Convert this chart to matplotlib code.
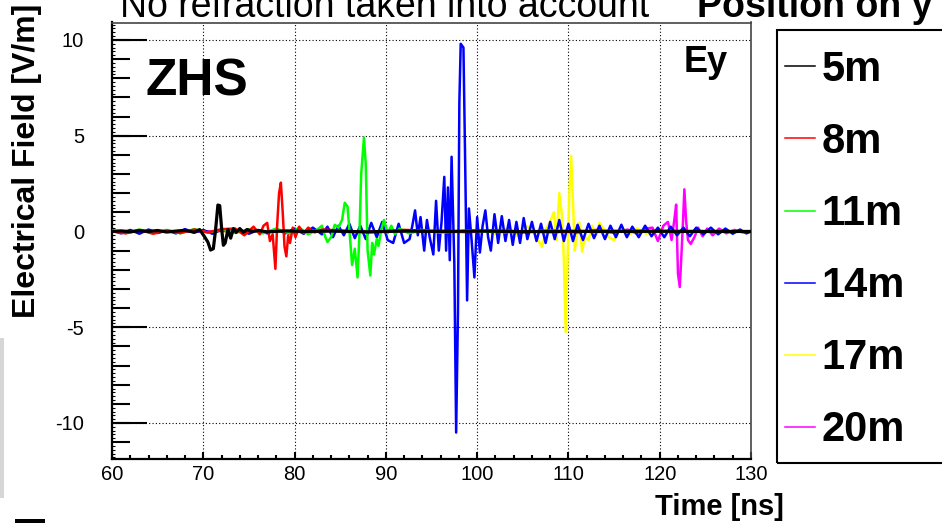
import matplotlib
matplotlib.use('Agg')
import matplotlib.pyplot as plt
from matplotlib.ticker import MultipleLocator, NullLocator
from matplotlib.patches import Rectangle

plt.rcParams['font.family'] = ['Liberation Sans', 'DejaVu Sans']
plt.rcParams['axes.unicode_minus'] = False

# E-field traces (Ey) for antennas at different positions
t_5m = [60, 61, 62, 63, 64, 65, 66, 67, 68, 69,
        69.6, 70.1, 70.5, 70.8, 71.1, 71.35, 71.6, 71.8, 72.0, 72.2,
        72.4, 72.7, 73.0, 73.3, 73.6, 74.0, 74.4, 74.8, 75.3, 76.0,
        77, 79, 81, 84, 88, 92, 96, 100, 105, 110,
        115, 120, 125, 130]
v_5m = [0.0, 0.03, -0.02, 0.04, 0.0, 0.05, -0.03, 0.02, 0.06, -0.04,
        0.1, -0.25, -0.55, -0.97, -0.9, 0.1, 1.38, 1.35, 0.2, -0.72,
        -0.6, 0.1, -0.35, 0.15, -0.05, 0.15, -0.05, 0.1, 0.0, 0.05,
        -0.02, 0.03, 0.0, 0.02, -0.02, 0.02, 0.0, 0.02, -0.01, 0.01,
        0.0, 0.01, 0.0, 0.0]

t_8m = [60, 61.5, 63, 64.5, 66, 67.5, 69, 70.5, 72, 73.5,
        74.5, 75.5, 76.2, 76.6, 77.0, 77.3, 77.6, 77.9, 78.1, 78.3,
        78.5, 78.7, 78.9, 79.1, 79.3, 79.5, 79.8, 80.1, 80.5, 81.0,
        81.5, 82.2, 83, 85, 88, 92, 97, 102, 108, 114,
        120, 126, 130]
v_8m = [0.0, -0.1, 0.08, -0.12, 0.05, -0.08, 0.1, -0.05, 0.12, 0.15,
        -0.2, 0.25, -0.15, 0.3, 0.45, -0.5, -0.15, -1.95, 0.4, 2.0,
        2.55, 1.0, -0.8, -1.3, -0.2, -0.6, 0.2, -0.3, 0.25, -0.1,
        0.2, -0.05, 0.1, 0.05, -0.05, 0.08, 0.0, 0.05, -0.04, 0.03,
        0.02, -0.02, 0.0]

t_11m = [60, 61.5, 63, 64.5, 66, 67.5, 69, 70.5, 72, 73.5,
         75, 76.5, 78, 79.5, 80.5, 81.5, 82.5, 83.0, 83.3, 83.6,
         84.0, 84.4, 84.8, 85.2, 85.5, 85.8, 86.1, 86.3, 86.6, 86.9,
         87.1, 87.3, 87.6, 87.8, 88.0, 88.3, 88.5, 88.7, 89.0, 89.2,
         89.5, 89.8, 90.2, 90.6, 91.0, 91.5, 92.5, 94, 96, 99,
         103, 108, 113, 118, 124, 130]
v_11m = [0.05, -0.08, 0.1, -0.05, 0.08, -0.1, 0.12, -0.06, 0.1, -0.08,
         0.12, -0.1, 0.15, -0.12, 0.2, -0.15, 0.1, 0.3, -0.2, -0.55,
         -0.3, 0.35, 0.2, 0.6, 1.5, 1.3, -0.5, -1.75, -0.9, -2.4,
         -0.2, 3.0, 4.9, 3.5, -1.0, -2.3, -0.6, -1.2, -0.4, -0.75,
         0.1, 0.6, -0.1, 0.3, -0.15, 0.15, -0.1, 0.08, -0.06, 0.05,
         -0.04, 0.04, -0.03, 0.02, -0.02, 0.0]

t_14m = [60, 61, 62, 63, 64, 65, 66, 67, 68, 69,
         70, 71, 72, 73, 74, 75, 76, 77, 78, 79,
         80, 81, 82, 83, 83.6, 84.2, 84.8, 85.4, 86.0, 86.6,
         87.2, 87.8, 88.4, 89.0, 89.6, 90.2, 90.8, 91.4, 92.0, 92.6,
         92.9, 93.2, 93.5, 93.8, 94.2, 94.5, 94.8, 95.2, 95.5, 95.8,
         96.1, 96.4, 96.6, 96.8, 97.0, 97.2, 97.5, 97.7, 97.9, 98.05,
         98.2, 98.5, 98.7, 98.9, 99.1, 99.4, 99.7, 100.0, 100.3, 100.6,
         100.9, 101.2, 101.5, 101.9, 102.3, 102.7, 103.1, 103.5, 103.9, 104.3,
         104.7, 105.1, 105.5, 106.0, 106.5, 107.0, 107.5, 108.0, 108.5, 109.0,
         109.5, 110.0, 110.5, 111.0, 111.6, 112.2, 112.8, 113.4, 114.0, 114.6,
         115.2, 115.8, 116.4, 117.0, 117.7, 118.4, 119.1, 119.8, 120.5, 121.2,
         121.9, 122.6, 123.3, 124.0, 124.8, 125.6, 126.4, 127.2, 128.0, 128.8,
         129.5, 130.0]
v_14m = [0.05, -0.1, 0.08, -0.12, 0.1, -0.08, 0.06, -0.1, 0.12, -0.06,
         0.08, -0.12, 0.1, -0.05, 0.1, -0.12, 0.08, -0.1, 0.12, -0.1,
         0.15, -0.12, 0.2, -0.15, 0.25, -0.3, 0.3, -0.2, 0.4, -0.35,
         0.3, -0.4, 0.45, -0.3, 0.5, -0.45, -0.6, 0.4, -0.6, -0.4,
         0.3, 1.1, -0.2, 0.75, -1.0, 0.6, -0.3, -1.2, 1.6, -1.0,
         0.5, 2.85, -1.0, 2.3, -1.5, 3.9, -1.65, -10.5, -4.2, 6.7,
         9.8, 9.6, 3.2, -3.6, 1.2, -0.5, -2.4, 0.75, -1.1, 0.3,
         1.1, -0.3, -1.0, 0.9, -0.6, 0.8, -0.5, 0.6, -0.7, 0.5,
         -0.6, 0.7, -0.4, 0.5, -0.5, 0.4, -0.6, 0.5, -0.4, 0.6,
         -0.5, 0.4, -0.5, 0.35, -0.45, 0.4, -0.35, 0.3, -0.4, 0.3,
         -0.3, 0.35, -0.3, 0.25, -0.3, 0.3, -0.25, 0.2, -0.3, 0.25,
         -0.2, 0.2, -0.25, 0.2, -0.15, 0.2, -0.15, 0.15, -0.12, 0.1,
         -0.1, 0.0]

t_17m = [60, 62, 64, 66, 68, 70, 72, 74, 76, 78,
         80, 82, 84, 86, 88, 90, 92, 94, 96, 98,
         100, 102, 103.5, 104.5, 105.3, 106.0, 106.6, 107.1, 107.6, 108.0,
         108.4, 108.7, 109.0, 109.3, 109.5, 109.7, 109.9, 110.1, 110.3, 110.5,
         110.7, 110.9, 111.2, 111.5, 111.8, 112.2, 112.6, 113.0, 113.4, 113.9,
         114.4, 115.0, 115.8, 116.6, 117.5, 118.5, 120, 122, 124, 126,
         128, 130]
v_17m = [0.02, -0.03, 0.03, -0.02, 0.03, -0.03, 0.02, -0.02, 0.03, -0.03,
         0.04, -0.04, 0.05, -0.05, 0.06, -0.05, 0.08, -0.06, 0.08, -0.1,
         0.1, -0.12, 0.2, -0.25, 0.3, 0.1, -0.4, -0.8, 0.2, 0.5,
         1.0, -0.45, 2.0, 0.8, -1.5, -5.25, -1.5, 2.0, 3.95, 1.5,
         -1.0, -0.2, 0.45, -1.05, -0.3, -0.45, 0.3, -0.2, 0.45, 0.1,
         -0.3, -0.45, 0.25, -0.2, 0.15, -0.12, 0.1, -0.08, 0.06, -0.05,
         0.03, 0.0]

t_20m = [60, 63, 66, 69, 72, 75, 78, 81, 84, 87,
         90, 93, 96, 99, 102, 105, 108, 111, 113, 115,
         116.5, 117.5, 118.5, 119.2, 119.8, 120.4, 120.9, 121.3, 121.6, 121.8,
         122.0, 122.2, 122.4, 122.55, 122.7, 122.9, 123.1, 123.4, 123.8, 124.2,
         124.7, 125.2, 125.8, 126.5, 127.3, 128.2, 129.1, 130]
v_20m = [0.02, -0.02, 0.02, -0.02, 0.03, -0.02, 0.02, -0.03, 0.03, -0.02,
         0.03, -0.03, 0.04, -0.04, 0.05, -0.05, 0.06, -0.06, 0.08, -0.08,
         0.1, -0.12, 0.15, 0.2, -0.5, 0.3, 0.5, -0.45, 0.6, 1.4,
         -2.2, -2.9, -1.0, 0.5, 2.2, 0.5, -0.45, -0.65, -0.3, 0.2,
         -0.25, 0.15, -0.2, 0.15, -0.1, 0.08, -0.05, 0.0]

labels = ['5m', '8m', '11m', '14m', '17m', '20m']
colors = ['black', '#ff0000', '#00ff00', '#0000ff', '#ffff00', '#ff00ff']
series = [(t_5m, v_5m), (t_8m, v_8m), (t_11m, v_11m),
          (t_14m, v_14m), (t_17m, v_17m), (t_20m, v_20m)]
# draw order: far antennas first, black ends up on top
draw_order = [4, 5, 3, 2, 1, 0]

fig = plt.figure(figsize=(9.42, 5.23), dpi=100)
rect = [112 / 942, 64 / 523, 639 / 942, 436.5 / 523]
ax = fig.add_axes(rect)

lines = {}
for z, i in enumerate(draw_order):
    t, v = series[i]
    lw = 2.3 if i == 0 else 1.8
    ln, = ax.plot(t, v, color=colors[i], lw=lw, label=labels[i], zorder=2 + z)
    lines[i] = ln

ax.set_xlim(60, 130)
ax.set_ylim(-11.88, 10.91)

# ROOT-like axes
ax.xaxis.set_major_locator(MultipleLocator(10))
ax.xaxis.set_minor_locator(MultipleLocator(2))
ax.yaxis.set_major_locator(MultipleLocator(5))
ax.yaxis.set_minor_locator(NullLocator())
ax.tick_params(axis='x', which='major', direction='in', length=5, width=1.5,
               labelsize=14.5, pad=4.5, top=False)
ax.tick_params(axis='x', which='minor', direction='in', length=2.6, width=1.5, top=False)
ax.tick_params(axis='y', which='major', direction='in', length=25, width=1.5,
               labelsize=14.5, pad=20, right=False)
ax.grid(True, which='major', linestyle=(0, (1, 2)), color='black', linewidth=0.8)
for s in ['left', 'bottom']:
    ax.spines[s].set_linewidth(1.6)
for s in ['top', 'right']:
    ax.spines[s].set_linewidth(1.2)
    ax.spines[s].set_color('#444444')

# second layer of y ticks (1 and 0.2 steps)
ax2 = fig.add_axes(rect, frameon=False)
ax2.set_xlim(60, 130)
ax2.set_ylim(-11.88, 10.91)
ax2.set_xticks([])
ax2.yaxis.set_major_locator(MultipleLocator(1))
ax2.yaxis.set_minor_locator(MultipleLocator(0.2))
ax2.tick_params(axis='y', which='major', direction='in', length=13, width=1.5,
                labelleft=False)
ax2.tick_params(axis='y', which='minor', direction='in', length=2.2, width=0.8)

ax.text(0.052, 0.833, 'ZHS', transform=ax.transAxes, fontsize=37,
        fontweight='bold', va='baseline', ha='left', zorder=20)
ax.text(0.964, 0.886, 'Ey', transform=ax.transAxes, fontsize=26,
        fontweight='bold', va='baseline', ha='right', zorder=20)

fig.text(27 / 942, 1 - 161 / 523, 'Electrical Field [V/m]', rotation=90,
         fontsize=23, fontweight='bold', ha='center', va='center')
fig.text(784 / 942, 1 - 515 / 523, 'Time [ns]', fontsize=21,
         fontweight='bold', ha='right', va='baseline')
fig.text(120 / 942, 1 - 17 / 523, 'No refraction taken into account',
         fontsize=27, ha='left', va='baseline')
fig.text(697 / 942, 1 - 17 / 523, 'Position on y axis',
         fontsize=27, fontweight='bold', ha='left', va='baseline')

# legend entries, box drawn separately (it runs off the right edge)
leg = fig.legend(handles=[lines[i] for i in range(6)], labels=labels,
                 loc='upper left', bbox_to_anchor=(785 / 942, 1 - 50 / 523),
                 borderaxespad=0, borderpad=0, frameon=False,
                 prop=dict(weight='bold', size=30),
                 handlelength=0.72, handletextpad=0.15, labelspacing=0.77)
for h in leg.get_lines():
    h.set_linewidth(1.1)
fig.add_artist(Rectangle((777 / 942, 60 / 523), 0.3, 433 / 523,
                         transform=fig.transFigure, fill=False,
                         edgecolor='black', lw=1.5))

# slide leftovers around the chart
fig.add_artist(Rectangle((0, 1 - 498 / 523), 4 / 942, 160 / 523,
                         transform=fig.transFigure, color='#d6d6d6', lw=0))
fig.add_artist(Rectangle((15 / 942, 0), 30 / 942, 4 / 523,
                         transform=fig.transFigure, color='black', lw=0))

fig.savefig('out.png', dpi=100)
